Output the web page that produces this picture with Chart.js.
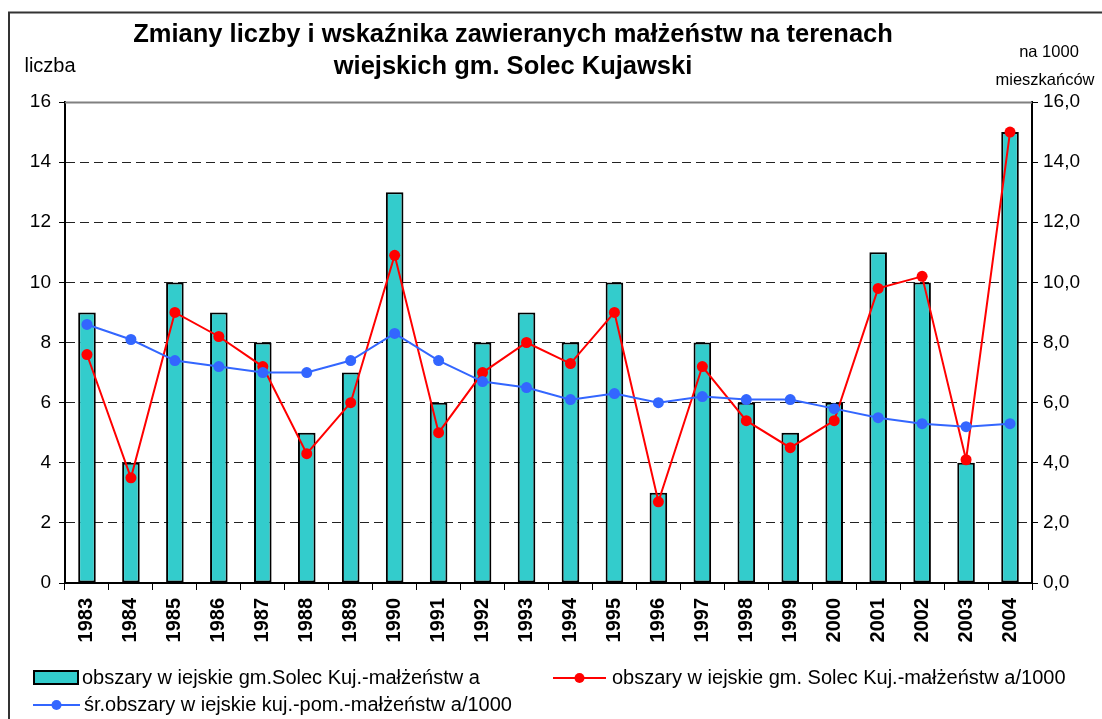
<!DOCTYPE html>
<html>
<head>
<meta charset="utf-8">
<script src="https://cdn.jsdelivr.net/npm/chart.js@4/dist/chart.umd.min.js"></script>
<style>
  html, body { margin: 0; padding: 0; background: #fff; }
  #wrap { width: 1102px; height: 719px; }
</style>
</head>
<body>
<div id="wrap"><canvas id="malzenstwa-chart" width="1102" height="719"></canvas></div>
<script>
/* dane z wykresu */
const years = ['1983','1984','1985','1986','1987','1988','1989','1990','1991','1992','1993',
               '1994','1995','1996','1997','1998','1999','2000','2001','2002','2003','2004'];
const liczba = [9, 4, 10, 9, 8, 5, 7, 13, 6, 8, 9, 8, 10, 3, 8, 6, 5, 6, 11, 10, 4, 15];
const naTysiacSolec = [7.6, 3.5, 9.0, 8.2, 7.2, 4.3, 6.0, 10.9, 5.0, 7.0, 8.0,
                       7.3, 9.0, 2.7, 7.2, 5.4, 4.5, 5.4, 9.8, 10.2, 4.1, 15.0];
const naTysiacWoj = [8.6, 8.1, 7.4, 7.2, 7.0, 7.0, 7.4, 8.3, 7.4, 6.7, 6.5,
                     6.1, 6.3, 6.0, 6.2, 6.1, 6.1, 5.8, 5.5, 5.3, 5.2, 5.3];
const leftTicks = [0, 2, 4, 6, 8, 10, 12, 14, 16];

const seriesNames = [
  'obszary w iejskie gm.Solec Kuj.-małżeństw a',
  'obszary w iejskie gm. Solec Kuj.-małżeństw a/1000',
  'śr.obszary w iejskie kuj.-pom.-małżeństw a/1000'
];
const titleLines = ['Zmiany liczby i wskaźnika zawieranych małżeństw na terenach', 'wiejskich gm. Solec Kujawski'];

const FONT = '"Liberation Sans", Arial, sans-serif';
const TEAL = '#33CCCC';
const RED = '#FF0000';
const BLUE = '#3366FF';

/* ramka, tytul, opisy osi i legenda */
const decorations = {
  id: 'decorations',
  afterDatasetsDraw(chart) {
    const c = chart.ctx;
    const a = chart.chartArea;
    c.save();
    // szara linia gorna obszaru wykresu
    c.strokeStyle = '#808080';
    c.lineWidth = 2;
    c.beginPath();
    c.moveTo(a.left, a.top + 0.5);
    c.lineTo(a.right, a.top + 0.5);
    c.stroke();
    c.restore();
  },
  afterDraw(chart) {
    const c = chart.ctx;
    c.save();
    // ramka zewnetrzna
    c.strokeStyle = '#333';
    c.lineWidth = 2;
    c.beginPath();
    c.moveTo(9, 719);
    c.lineTo(9, 12.5);
    c.lineTo(1102, 12.5);
    c.stroke();

    // tytul
    c.fillStyle = '#000';
    c.textAlign = 'center';
    c.textBaseline = 'middle';
    c.font = 'bold 25.5px ' + FONT;
    c.fillText(titleLines[0], 513, 35);
    c.fillText(titleLines[1], 513, 67);

    // opisy osi
    c.font = '20px ' + FONT;
    c.fillText('liczba', 50, 66);
    c.font = '16.5px ' + FONT;
    c.fillText('na 1000', 1049, 52);
    c.fillText('mieszkańców', 1045, 80);

    // legenda
    c.font = '20px ' + FONT;
    c.textAlign = 'left';
    // slupki
    c.fillStyle = TEAL;
    c.fillRect(34, 671, 44, 13);
    c.strokeStyle = '#000';
    c.lineWidth = 2;
    c.strokeRect(34, 671, 44, 13);
    c.fillStyle = '#000';
    c.fillText(seriesNames[0], 82, 678);
    // linie z punktami
    const legendLine = (x1, x2, y, col) => {
      c.strokeStyle = col;
      c.lineWidth = 2;
      c.beginPath();
      c.moveTo(x1, y);
      c.lineTo(x2, y);
      c.stroke();
      c.fillStyle = col;
      c.beginPath();
      c.arc((x1 + x2) / 2, y, 5, 0, Math.PI * 2);
      c.fill();
    };
    legendLine(553, 606, 678, RED);
    c.fillStyle = '#000';
    c.fillText(seriesNames[1], 612, 678);
    legendLine(33, 80, 705, BLUE);
    c.fillStyle = '#000';
    c.fillText(seriesNames[2], 84, 705);
    c.restore();
  }
};

const ctx = document.querySelector('#malzenstwa-chart').getContext('2d');

new Chart(ctx, {
  type: 'bar',
  data: {
    labels: years,
    datasets: [
      {
        type: 'line',
        label: seriesNames[2],
        data: naTysiacWoj,
        yAxisID: 'y1',
        borderColor: BLUE,
        backgroundColor: BLUE,
        borderWidth: 2,
        pointRadius: 5.5,
        pointBorderWidth: 0,
        tension: 0,
        order: 1
      },
      {
        type: 'line',
        label: seriesNames[1],
        data: naTysiacSolec,
        yAxisID: 'y1',
        borderColor: RED,
        backgroundColor: RED,
        borderWidth: 2,
        pointRadius: 5.5,
        pointBorderWidth: 0,
        tension: 0,
        order: 2
      },
      {
        label: seriesNames[0],
        data: liczba,
        yAxisID: 'y',
        backgroundColor: TEAL,
        borderColor: '#000',
        borderWidth: 2,
        borderSkipped: false,
        barPercentage: 0.4,
        categoryPercentage: 1,
        order: 3
      }
    ]
  },
  options: {
    responsive: false,
    animation: false,
    layout: { padding: { top: 102, left: 0, right: 0, bottom: 0 } },
    plugins: {
      legend: { display: false },
      title: { display: false },
      tooltip: { enabled: false }
    },
    scales: {
      x: {
        offset: true,
        afterFit(s) { s.height = 136; },
        grid: {
          offset: true,
          drawOnChartArea: false,
          color: '#000',
          tickLength: 7,
          lineWidth: 1
        },
        border: { color: '#000', width: 2 },
        ticks: {
          minRotation: 90,
          maxRotation: 90,
          padding: 8,
          color: '#000',
          font: { family: FONT, size: 20, weight: 'bold' }
        }
      },
      y: {
        position: 'left',
        min: 0,
        max: 16,
        afterFit(s) { s.width = 65; },
        afterBuildTicks(s) { s.ticks = leftTicks.map(v => ({ value: v })); },
        grid: {
          color: '#222',
          lineWidth: 1,
          tickBorderDash: [],
          tickColor: '#000',
          tickLength: 6
        },
        border: { color: '#000', width: 2, dash: [9, 5] },
        ticks: {
          padding: 8,
          color: '#000',
          font: { family: FONT, size: 19 }
        }
      },
      y1: {
        position: 'right',
        min: 0,
        max: 16,
        afterFit(s) { s.width = 70; },
        afterBuildTicks(s) { s.ticks = leftTicks.map(v => ({ value: v })); },
        grid: {
          drawOnChartArea: false,
          tickColor: '#000',
          tickLength: 6
        },
        border: { color: '#000', width: 2 },
        ticks: {
          padding: 5,
          color: '#000',
          font: { family: FONT, size: 19 },
          callback: v => v.toFixed(1).replace('.', ',')
        }
      }
    }
  },
  plugins: [decorations]
});
</script>
</body>
</html>
